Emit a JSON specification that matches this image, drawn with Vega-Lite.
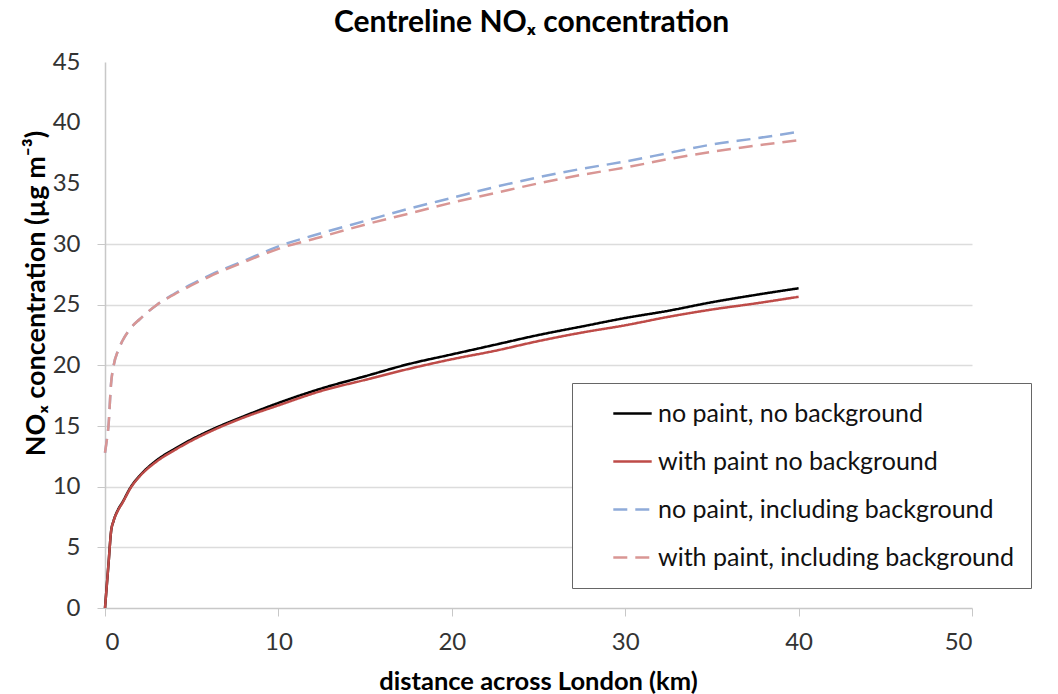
{
  "$schema": "https://vega.github.io/schema/vega-lite/v6.json",
  "width": 867,
  "height": 546,
  "autosize": {"type": "none"},
  "padding": {"left": 105, "top": 62, "right": 86, "bottom": 86},
  "background": "white",
  "title": {
    "text": "Centreline NOₓ concentration",
    "font": "Lato",
    "fontSize": 30,
    "fontWeight": "bold",
    "color": "#000000",
    "offset": 12,
    "dx": -7
  },
  "config": {
    "view": {"stroke": null},
    "font": "Lato"
  },
  "data": {
    "values": [
      {"series": "no paint, no background", "x": 0, "y": 0},
      {"series": "no paint, no background", "x": 0.1, "y": 1.8},
      {"series": "no paint, no background", "x": 0.2, "y": 3.6},
      {"series": "no paint, no background", "x": 0.35, "y": 6.3},
      {"series": "no paint, no background", "x": 0.5, "y": 7.2},
      {"series": "no paint, no background", "x": 0.75, "y": 8.1},
      {"series": "no paint, no background", "x": 1, "y": 8.7},
      {"series": "no paint, no background", "x": 1.5, "y": 10.0},
      {"series": "no paint, no background", "x": 2, "y": 10.9},
      {"series": "no paint, no background", "x": 3, "y": 12.2},
      {"series": "no paint, no background", "x": 4, "y": 13.1},
      {"series": "no paint, no background", "x": 5, "y": 13.9},
      {"series": "no paint, no background", "x": 6, "y": 14.6},
      {"series": "no paint, no background", "x": 8, "y": 15.8},
      {"series": "no paint, no background", "x": 10, "y": 16.9},
      {"series": "no paint, no background", "x": 12.5, "y": 18.1},
      {"series": "no paint, no background", "x": 15, "y": 19.1},
      {"series": "no paint, no background", "x": 17.5, "y": 20.1},
      {"series": "no paint, no background", "x": 20, "y": 20.9},
      {"series": "no paint, no background", "x": 22.5, "y": 21.7},
      {"series": "no paint, no background", "x": 25, "y": 22.5},
      {"series": "no paint, no background", "x": 27.5, "y": 23.2},
      {"series": "no paint, no background", "x": 30, "y": 23.9},
      {"series": "no paint, no background", "x": 32.5, "y": 24.5},
      {"series": "no paint, no background", "x": 35, "y": 25.2},
      {"series": "no paint, no background", "x": 37.5, "y": 25.8},
      {"series": "no paint, no background", "x": 40, "y": 26.35},
      {"series": "with paint no background", "x": 0, "y": 0},
      {"series": "with paint no background", "x": 0.1, "y": 1.8},
      {"series": "with paint no background", "x": 0.2, "y": 3.6},
      {"series": "with paint no background", "x": 0.35, "y": 6.3},
      {"series": "with paint no background", "x": 0.5, "y": 7.2},
      {"series": "with paint no background", "x": 0.75, "y": 8.05},
      {"series": "with paint no background", "x": 1, "y": 8.65},
      {"series": "with paint no background", "x": 1.5, "y": 9.95},
      {"series": "with paint no background", "x": 2, "y": 10.85},
      {"series": "with paint no background", "x": 3, "y": 12.1},
      {"series": "with paint no background", "x": 4, "y": 13.0},
      {"series": "with paint no background", "x": 5, "y": 13.8},
      {"series": "with paint no background", "x": 6, "y": 14.5},
      {"series": "with paint no background", "x": 8, "y": 15.7},
      {"series": "with paint no background", "x": 10, "y": 16.7},
      {"series": "with paint no background", "x": 12.5, "y": 17.9},
      {"series": "with paint no background", "x": 15, "y": 18.8},
      {"series": "with paint no background", "x": 17.5, "y": 19.7},
      {"series": "with paint no background", "x": 20, "y": 20.5},
      {"series": "with paint no background", "x": 22.5, "y": 21.2},
      {"series": "with paint no background", "x": 25, "y": 22.0},
      {"series": "with paint no background", "x": 27.5, "y": 22.7},
      {"series": "with paint no background", "x": 30, "y": 23.3},
      {"series": "with paint no background", "x": 32.5, "y": 24.0},
      {"series": "with paint no background", "x": 35, "y": 24.6},
      {"series": "with paint no background", "x": 37.5, "y": 25.1},
      {"series": "with paint no background", "x": 40, "y": 25.65},
      {"series": "no paint, including background", "x": 0, "y": 12.8},
      {"series": "no paint, including background", "x": 0.1, "y": 13.8},
      {"series": "no paint, including background", "x": 0.2, "y": 15.0},
      {"series": "no paint, including background", "x": 0.35, "y": 18.5},
      {"series": "no paint, including background", "x": 0.5, "y": 20.0},
      {"series": "no paint, including background", "x": 0.75, "y": 21.2},
      {"series": "no paint, including background", "x": 1, "y": 22.0},
      {"series": "no paint, including background", "x": 1.5, "y": 23.1},
      {"series": "no paint, including background", "x": 2, "y": 23.8},
      {"series": "no paint, including background", "x": 3, "y": 25.0},
      {"series": "no paint, including background", "x": 4, "y": 25.9},
      {"series": "no paint, including background", "x": 5, "y": 26.7},
      {"series": "no paint, including background", "x": 6, "y": 27.4},
      {"series": "no paint, including background", "x": 8, "y": 28.6},
      {"series": "no paint, including background", "x": 10, "y": 29.8},
      {"series": "no paint, including background", "x": 12.5, "y": 30.9},
      {"series": "no paint, including background", "x": 15, "y": 31.9},
      {"series": "no paint, including background", "x": 17.5, "y": 32.9},
      {"series": "no paint, including background", "x": 20, "y": 33.8},
      {"series": "no paint, including background", "x": 22.5, "y": 34.7},
      {"series": "no paint, including background", "x": 25, "y": 35.5},
      {"series": "no paint, including background", "x": 27.5, "y": 36.2},
      {"series": "no paint, including background", "x": 30, "y": 36.8},
      {"series": "no paint, including background", "x": 32.5, "y": 37.5},
      {"series": "no paint, including background", "x": 35, "y": 38.2},
      {"series": "no paint, including background", "x": 37.5, "y": 38.7},
      {"series": "no paint, including background", "x": 40, "y": 39.25},
      {"series": "with paint, including background", "x": 0, "y": 12.8},
      {"series": "with paint, including background", "x": 0.1, "y": 13.8},
      {"series": "with paint, including background", "x": 0.2, "y": 15.0},
      {"series": "with paint, including background", "x": 0.35, "y": 18.5},
      {"series": "with paint, including background", "x": 0.5, "y": 20.0},
      {"series": "with paint, including background", "x": 0.75, "y": 21.2},
      {"series": "with paint, including background", "x": 1, "y": 22.0},
      {"series": "with paint, including background", "x": 1.5, "y": 23.1},
      {"series": "with paint, including background", "x": 2, "y": 23.8},
      {"series": "with paint, including background", "x": 3, "y": 25.0},
      {"series": "with paint, including background", "x": 4, "y": 25.85},
      {"series": "with paint, including background", "x": 5, "y": 26.6},
      {"series": "with paint, including background", "x": 6, "y": 27.3},
      {"series": "with paint, including background", "x": 8, "y": 28.5},
      {"series": "with paint, including background", "x": 10, "y": 29.6},
      {"series": "with paint, including background", "x": 12.5, "y": 30.6},
      {"series": "with paint, including background", "x": 15, "y": 31.6},
      {"series": "with paint, including background", "x": 17.5, "y": 32.5},
      {"series": "with paint, including background", "x": 20, "y": 33.4},
      {"series": "with paint, including background", "x": 22.5, "y": 34.2},
      {"series": "with paint, including background", "x": 25, "y": 35.0},
      {"series": "with paint, including background", "x": 27.5, "y": 35.7},
      {"series": "with paint, including background", "x": 30, "y": 36.3},
      {"series": "with paint, including background", "x": 32.5, "y": 37.0},
      {"series": "with paint, including background", "x": 35, "y": 37.6},
      {"series": "with paint, including background", "x": 37.5, "y": 38.1},
      {"series": "with paint, including background", "x": 40, "y": 38.55}
    ]
  },
  "mark": {"type": "line", "interpolate": "monotone"},
  "encoding": {
    "x": {
      "field": "x",
      "type": "quantitative",
      "scale": {"domain": [0, 50], "nice": false, "zero": true},
      "axis": {
        "title": "distance across London (km)",
        "values": [0, 10, 20, 30, 40, 50],
        "grid": false,
        "domainColor": "#c8c8c8",
        "domainWidth": 1.5,
        "tickColor": "#c8c8c8",
        "tickSize": 8,
        "labelPadding": 14,
        "labelFont": "Lato",
        "labelFontSize": 24,
        "labelColor": "#333333",
        "titleFont": "Lato",
        "titleFontSize": 25.5,
        "titleFontWeight": "bold",
        "titleColor": "#000000",
        "titleX": 433,
        "titleY": 73,
        "titleAlign": "center",
        "titleBaseline": "middle"
      }
    },
    "y": {
      "field": "y",
      "type": "quantitative",
      "scale": {"domain": [0, 45], "nice": false},
      "axis": {
        "title": "NOₓ concentration (µg m⁻³)",
        "values": [0, 5, 10, 15, 20, 25, 30, 35, 40, 45],
        "grid": true,
        "gridColor": {"condition": {"test": "datum.value > 30 || datum.value == 0", "value": "transparent"}, "value": "#dcdcdc"},
        "gridWidth": 1.5,
        "domainColor": "#c8c8c8",
        "domainWidth": 1.5,
        "tickColor": {"condition": {"test": "datum.value > 30", "value": "transparent"}, "value": "#c8c8c8"},
        "tickSize": 8,
        "labelPadding": 17,
        "labelFont": "Lato",
        "labelFontSize": 24,
        "labelColor": "#333333",
        "titleFont": "Lato",
        "titleFontSize": 27,
        "titleFontWeight": "bold",
        "titleColor": "#000000",
        "titleAngle": -90,
        "titleX": -69,
        "titleY": 231,
        "titleAlign": "center",
        "titleBaseline": "middle"
      }
    },
    "color": {
      "field": "series",
      "type": "nominal",
      "sort": ["no paint, no background", "with paint no background", "no paint, including background", "with paint, including background"],
      "scale": {
        "domain": ["no paint, no background", "with paint no background", "no paint, including background", "with paint, including background"],
        "range": ["#000000", "#be4b48", "#8fabd9", "#d99694"]
      },
      "legend": {
        "title": null,
        "orient": "none",
        "legendX": 467,
        "legendY": 321,
        "direction": "vertical",
        "strokeColor": "#666666",
        "fillColor": "white",
        "padding": 17,
        "rowPadding": 21,
        "symbolType": "M-1.6,0H1.6",
        "symbolSize": 576,
        "symbolStrokeWidth": 3,
        "symbolOffset": 30,
        "labelOffset": 12,
        "labelFont": "Lato",
        "labelFontSize": 25,
        "labelColor": "#111111",
        "labelLimit": 600
      }
    },
    "strokeDash": {
      "field": "series",
      "type": "nominal",
      "scale": {
        "domain": ["no paint, no background", "with paint no background", "no paint, including background", "with paint, including background"],
        "range": [[1, 0], [1, 0], [14, 8], [14, 8]]
      },
      "legend": null
    },
    "strokeWidth": {
      "field": "series",
      "type": "nominal",
      "scale": {
        "domain": ["no paint, no background", "with paint no background", "no paint, including background", "with paint, including background"],
        "range": [2.5, 2.5, 3.5, 3.5]
      },
      "legend": null
    }
  }
}
